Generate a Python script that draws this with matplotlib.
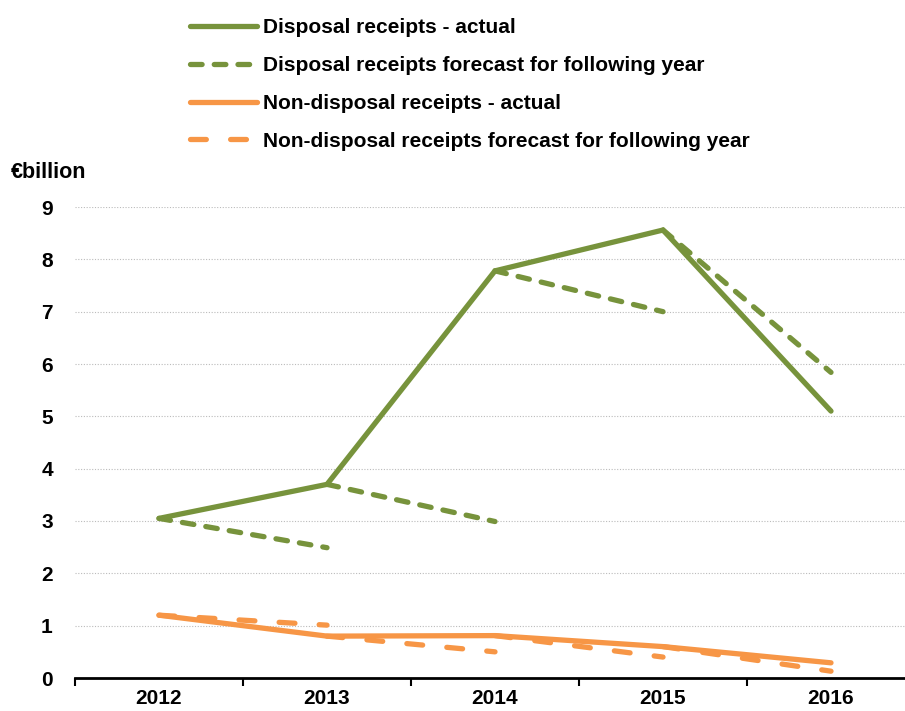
import matplotlib
matplotlib.use("Agg")
import matplotlib.pyplot as plt
from matplotlib.lines import Line2D

plt.rcParams['font.family'] = ['Liberation Sans', 'DejaVu Sans']
plt.rcParams['font.weight'] = 'bold'

years = ['2012', '2013', '2014', '2015', '2016']
disposal_actual = [3.05, 3.70, 7.78, 8.56, 5.10]
disposal_forecast_next = [2.49, 2.99, 7.00, 5.84]   # forecast made in year i for year i+1
nondisposal_actual = [1.20, 0.80, 0.81, 0.60, 0.29]
nondisposal_forecast_next = [1.01, 0.50, 0.40, 0.13]
yticks = [0, 1, 2, 3, 4, 5, 6, 7, 8, 9]

GREEN = '#77933C'
ORANGE = '#F79646'
LW = 3.8
GREEN_DASH = (2.2, 2.3)
ORANGE_DASH = (3.0, 4.6)
FS = 15

fig = plt.figure(figsize=(9.05, 7.11), dpi=100)
ax = fig.add_axes([75/905, 1 - 678/711, (915 - 75)/905, (678 - 207)/711])

x = list(range(len(years)))
ax.plot(x, disposal_actual, color=GREEN, lw=LW, solid_capstyle='round', solid_joinstyle='miter', zorder=3)
for i, f in enumerate(disposal_forecast_next):
    ax.plot([x[i], x[i + 1]], [disposal_actual[i], f], color=GREEN, lw=LW,
            dashes=GREEN_DASH, dash_capstyle='round', zorder=3)
ax.plot(x, nondisposal_actual, color=ORANGE, lw=LW, solid_capstyle='round', zorder=3)
for i, f in enumerate(nondisposal_forecast_next):
    ax.plot([x[i], x[i + 1]], [nondisposal_actual[i], f], color=ORANGE, lw=LW,
            dashes=ORANGE_DASH, dash_capstyle='round', zorder=3)

ax.set_xlim(-0.5, len(years) - 0.5)
ax.set_ylim(0, 9)
ax.set_yticks(yticks)
ax.set_yticklabels([str(v) for v in yticks], fontsize=FS, fontweight='bold')
ax.tick_params(axis='y', length=0, pad=16)
ax.set_xticks(x)
ax.set_xticklabels(years, fontsize=FS, fontweight='bold')
ax.tick_params(axis='x', which='major', length=0, pad=8)
ax.set_xticks([i - 0.5 for i in range(len(years) + 1)], minor=True)
ax.tick_params(axis='x', which='minor', length=6, width=1.5, color='black', direction='out')
for s in ['top', 'right', 'left']:
    ax.spines[s].set_visible(False)
ax.spines['bottom'].set_linewidth(2)
ax.grid(axis='y', color='#bbbbbb', linestyle=(0, (1, 1.5)), lw=0.8)
ax.set_axisbelow(True)

fig.text(11/905, 1 - 172/711, '€billion', fontsize=FS + 0.5, fontweight='bold', va='center', ha='left')

handles = [
    Line2D([], [], color=GREEN, lw=LW, solid_capstyle='round'),
    Line2D([], [], color=GREEN, lw=LW, dashes=GREEN_DASH, dash_capstyle='round'),
    Line2D([], [], color=ORANGE, lw=LW, solid_capstyle='round'),
    Line2D([], [], color=ORANGE, lw=LW, dashes=ORANGE_DASH, dash_capstyle='round'),
]
labels = ['Disposal receipts - actual',
          'Disposal receipts forecast for following year',
          'Non-disposal receipts - actual',
          'Non-disposal receipts forecast for following year']
fig.legend(handles, labels, loc='upper left', bbox_to_anchor=(182/905, 1 - 10/711),
           frameon=False, prop={'size': FS, 'weight': 'bold'},
           handlelength=3.2, handletextpad=0.3, labelspacing=0.9, borderaxespad=0)

fig.savefig('out.png', dpi=100)
